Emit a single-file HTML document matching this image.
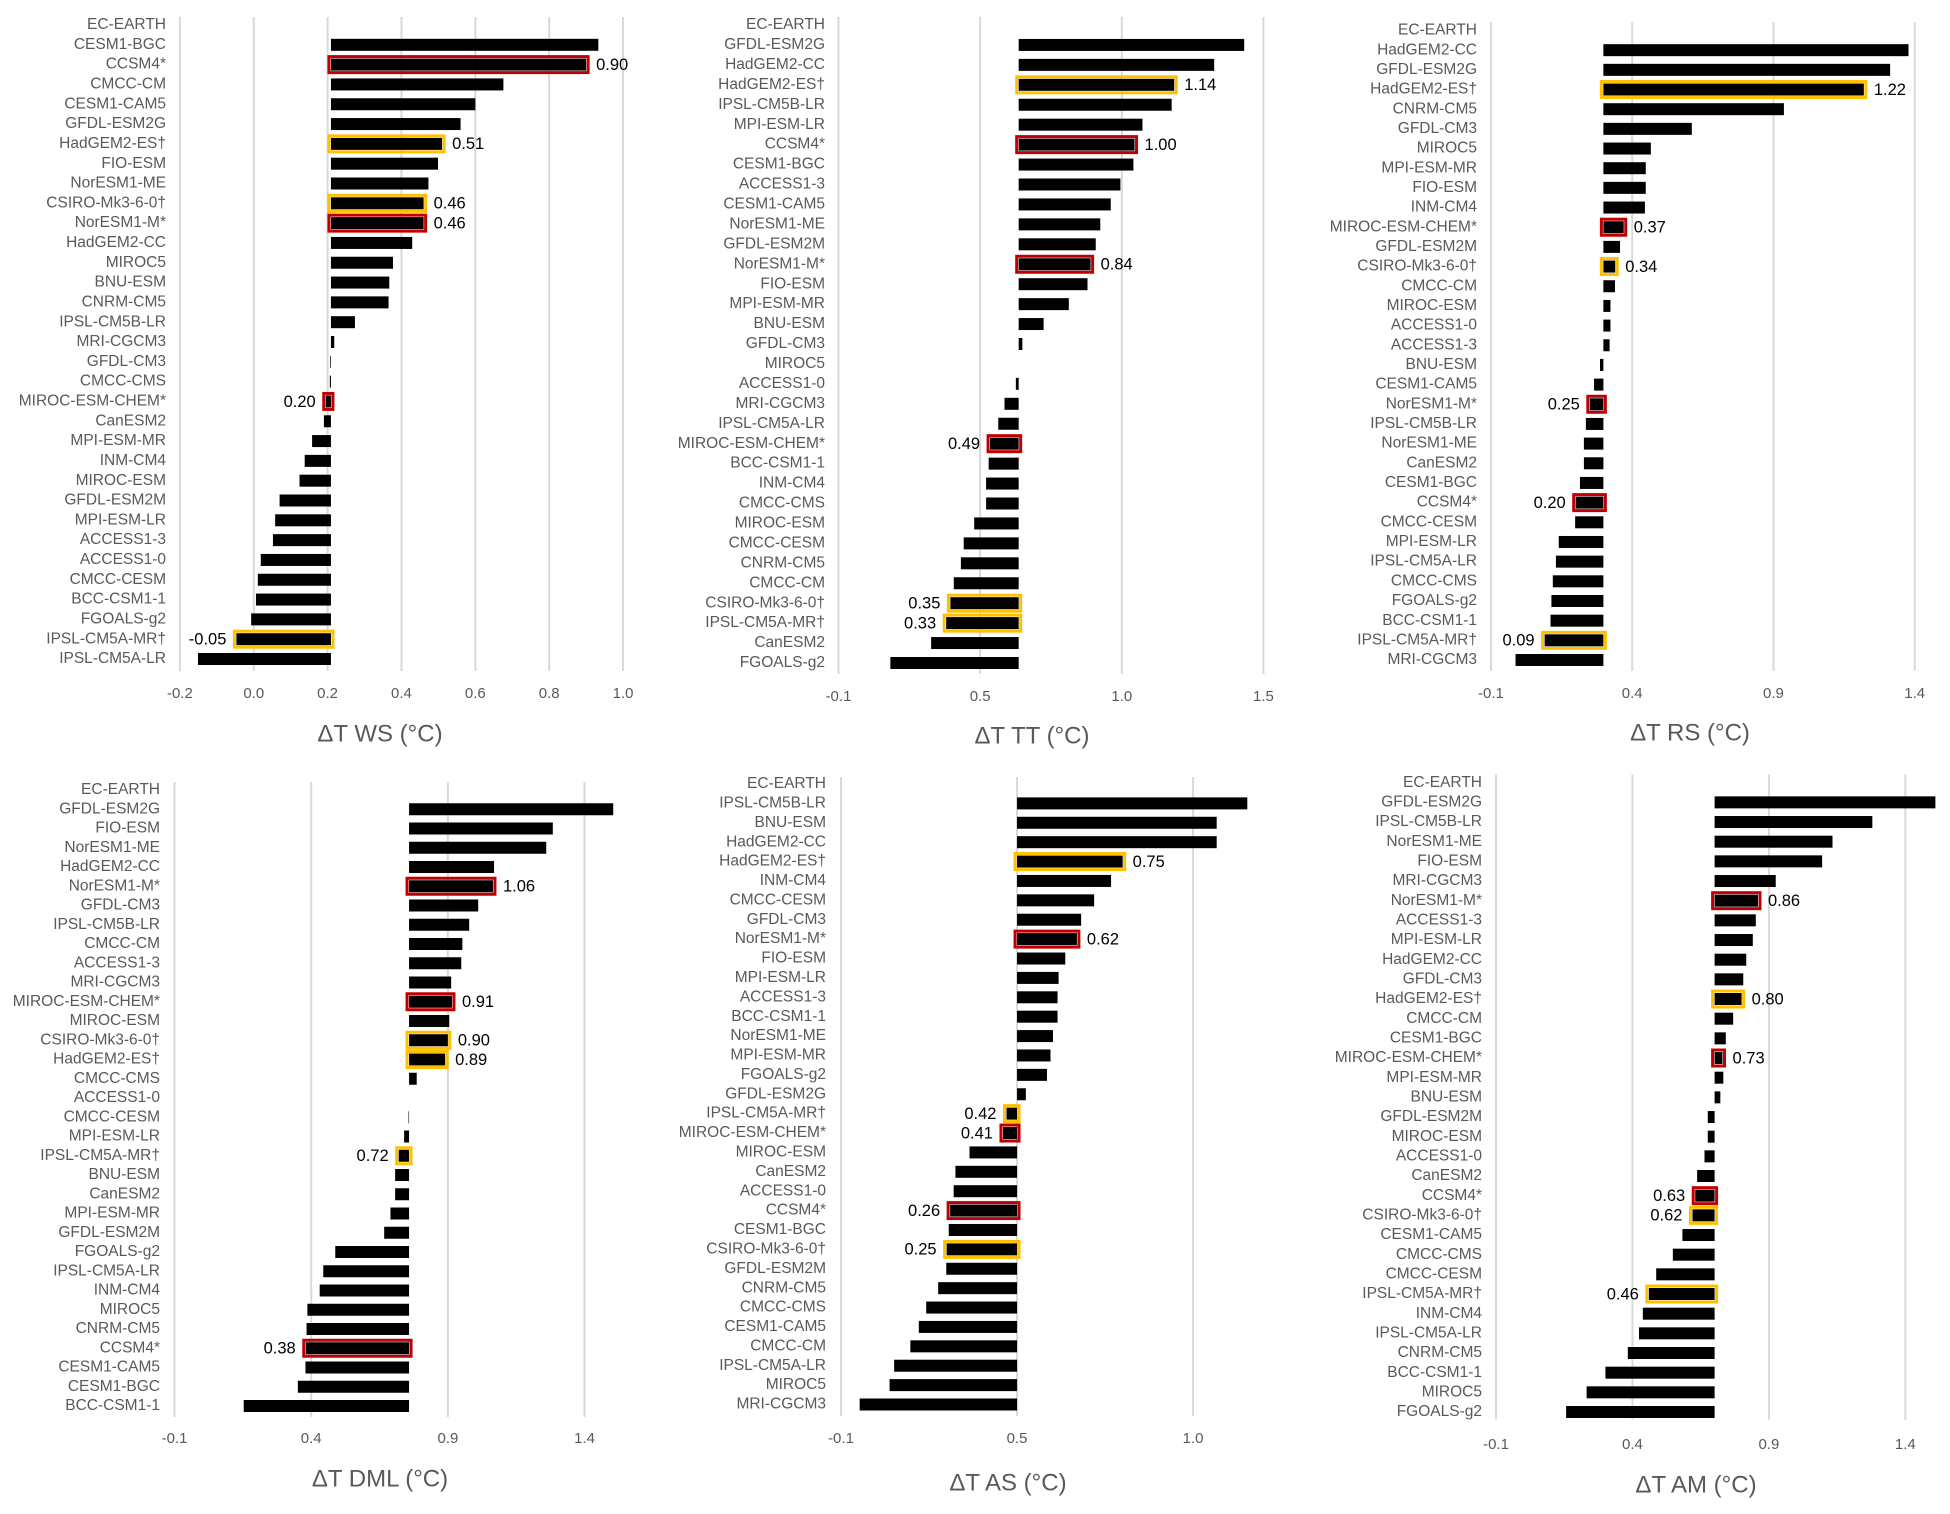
<!DOCTYPE html>
<html><head><meta charset="utf-8">
<style>
html,body{margin:0;padding:0;background:#fff;}
svg{display:block;font-family:"Liberation Sans",sans-serif;}
</style></head>
<body>
<svg id="fig" width="1950" height="1514" viewBox="0 0 1950 1514" xmlns="http://www.w3.org/2000/svg"></svg>
<script>
// ---------- DATA ----------
const wsCats=["EC-EARTH","CESM1-BGC","CCSM4*","CMCC-CM","CESM1-CAM5","GFDL-ESM2G","HadGEM2-ES†","FIO-ESM","NorESM1-ME","CSIRO-Mk3-6-0†","NorESM1-M*","HadGEM2-CC","MIROC5","BNU-ESM","CNRM-CM5","IPSL-CM5B-LR","MRI-CGCM3","GFDL-CM3","CMCC-CMS","MIROC-ESM-CHEM*","CanESM2","MPI-ESM-MR","INM-CM4","MIROC-ESM","GFDL-ESM2M","MPI-ESM-LR","ACCESS1-3","ACCESS1-0","CMCC-CESM","BCC-CSM1-1","FGOALS-g2","IPSL-CM5A-MR†","IPSL-CM5A-LR"];
const wsVals=[0.209,0.933,0.90,0.676,0.600,0.56,0.51,0.499,0.473,0.46,0.46,0.429,0.377,0.367,0.365,0.274,0.218,0.207,0.206,0.195,0.19,0.158,0.138,0.124,0.070,0.058,0.052,0.019,0.011,0.006,-0.007,-0.047,-0.151];
const wsLabels=["","","0.90","","","","0.51","","","0.46","0.46","","","","","","","","","0.20","","","","","","","","","","","","-0.05",""];
const wsBase=0.209;
const wsTicks=[-0.2,0,0.2,0.4,0.6,0.8,1.0];
const wsTickLabels=["-0.2","0.0","0.2","0.4","0.6","0.8","1.0"];

const ttCats=["EC-EARTH","GFDL-ESM2G","HadGEM2-CC","HadGEM2-ES†","IPSL-CM5B-LR","MPI-ESM-LR","CCSM4*","CESM1-BGC","ACCESS1-3","CESM1-CAM5","NorESM1-ME","GFDL-ESM2M","NorESM1-M*","FIO-ESM","MPI-ESM-MR","BNU-ESM","GFDL-CM3","MIROC5","ACCESS1-0","MRI-CGCM3","IPSL-CM5A-LR","MIROC-ESM-CHEM*","BCC-CSM1-1","INM-CM4","CMCC-CMS","MIROC-ESM","CMCC-CESM","CNRM-CM5","CMCC-CM","CSIRO-Mk3-6-0†","IPSL-CM5A-MR†","CanESM2","FGOALS-g2"];
const ttVals=[0.591,1.387,1.281,1.14,1.131,1.028,1.00,0.996,0.950,0.916,0.879,0.863,0.845,0.834,0.768,0.679,0.604,0.591,0.581,0.541,0.519,0.49,0.485,0.476,0.476,0.434,0.397,0.387,0.362,0.35,0.335,0.282,0.138];
const ttLabels=["","","","1.14","","","1.00","","","","","","0.84","","","","","","","","","0.49","","","","","","","","0.35","0.33","",""];
const ttBase=0.591;
const ttTicks=[-0.045,0.455,0.955,1.455];
const ttTickLabels=["-0.1","0.5","1.0","1.5"];

const rsCats=["EC-EARTH","HadGEM2-CC","GFDL-ESM2G","HadGEM2-ES†","CNRM-CM5","GFDL-CM3","MIROC5","MPI-ESM-MR","FIO-ESM","INM-CM4","MIROC-ESM-CHEM*","GFDL-ESM2M","CSIRO-Mk3-6-0†","CMCC-CM","MIROC-ESM","ACCESS1-0","ACCESS1-3","BNU-ESM","CESM1-CAM5","NorESM1-M*","IPSL-CM5B-LR","NorESM1-ME","CanESM2","CESM1-BGC","CCSM4*","CMCC-CESM","MPI-ESM-LR","IPSL-CM5A-LR","CMCC-CMS","FGOALS-g2","BCC-CSM1-1","IPSL-CM5A-MR†","MRI-CGCM3"];
const rsVals=[0.298,1.378,1.313,1.22,0.937,0.611,0.466,0.448,0.448,0.445,0.37,0.357,0.34,0.339,0.323,0.323,0.320,0.286,0.265,0.25,0.236,0.229,0.229,0.215,0.20,0.198,0.140,0.130,0.119,0.114,0.111,0.09,-0.013];
const rsLabels=["","","","1.22","","","","","","","0.37","","0.34","","","","","","","0.25","","","","","0.20","","","","","","","0.09",""];
const rsBase=0.298;
const rsTicks=[-0.1,0.4,0.9,1.4];
const rsTickLabels=["-0.1","0.4","0.9","1.4"];

const dmlCats=["EC-EARTH","GFDL-ESM2G","FIO-ESM","NorESM1-ME","HadGEM2-CC","NorESM1-M*","GFDL-CM3","IPSL-CM5B-LR","CMCC-CM","ACCESS1-3","MRI-CGCM3","MIROC-ESM-CHEM*","MIROC-ESM","CSIRO-Mk3-6-0†","HadGEM2-ES†","CMCC-CMS","ACCESS1-0","CMCC-CESM","MPI-ESM-LR","IPSL-CM5A-MR†","BNU-ESM","CanESM2","MPI-ESM-MR","GFDL-ESM2M","FGOALS-g2","IPSL-CM5A-LR","INM-CM4","MIROC5","CNRM-CM5","CCSM4*","CESM1-CAM5","CESM1-BGC","BCC-CSM1-1"];
const dmlVals=[0.758,1.505,1.284,1.260,1.069,1.065,1.011,0.978,0.953,0.949,0.912,0.915,0.905,0.90,0.89,0.786,0.759,0.756,0.740,0.72,0.707,0.707,0.690,0.667,0.488,0.444,0.431,0.386,0.383,0.38,0.379,0.351,0.153];
const dmlLabels=["","","","","","1.06","","","","","","0.91","","0.90","0.89","","","","","0.72","","","","","","","","","","0.38","","",""];
const dmlBase=0.758;
const dmlTicks=[-0.1,0.4,0.9,1.4];
const dmlTickLabels=["-0.1","0.4","0.9","1.4"];

const asCats=["EC-EARTH","IPSL-CM5B-LR","BNU-ESM","HadGEM2-CC","HadGEM2-ES†","INM-CM4","CMCC-CESM","GFDL-CM3","NorESM1-M*","FIO-ESM","MPI-ESM-LR","ACCESS1-3","BCC-CSM1-1","NorESM1-ME","MPI-ESM-MR","FGOALS-g2","GFDL-ESM2G","IPSL-CM5A-MR†","MIROC-ESM-CHEM*","MIROC-ESM","CanESM2","ACCESS1-0","CCSM4*","CESM1-BGC","CSIRO-Mk3-6-0†","GFDL-ESM2M","CNRM-CM5","CMCC-CMS","CESM1-CAM5","CMCC-CM","IPSL-CM5A-LR","MIROC5","MRI-CGCM3"];
const asVals=[0.45,1.104,1.017,1.017,0.75,0.717,0.669,0.632,0.62,0.587,0.568,0.565,0.565,0.552,0.545,0.535,0.475,0.42,0.41,0.315,0.275,0.270,0.26,0.256,0.25,0.249,0.226,0.192,0.171,0.147,0.101,0.088,0.003];
const asLabels=["","","","","0.75","","","","0.62","","","","","","","","","0.42","0.41","","","","0.26","","0.25","","","","","","","",""];
const asBase=0.45;
const asTicks=[-0.05,0.45,0.95];
const asTickLabels=["-0.1","0.5","1.0"];

const amCats=["EC-EARTH","GFDL-ESM2G","IPSL-CM5B-LR","NorESM1-ME","FIO-ESM","MRI-CGCM3","NorESM1-M*","ACCESS1-3","MPI-ESM-LR","HadGEM2-CC","GFDL-CM3","HadGEM2-ES†","CMCC-CM","CESM1-BGC","MIROC-ESM-CHEM*","MPI-ESM-MR","BNU-ESM","GFDL-ESM2M","MIROC-ESM","ACCESS1-0","CanESM2","CCSM4*","CSIRO-Mk3-6-0†","CESM1-CAM5","CMCC-CMS","CMCC-CESM","IPSL-CM5A-MR†","INM-CM4","IPSL-CM5A-LR","CNRM-CM5","BCC-CSM1-1","MIROC5","FGOALS-g2"];
const amVals=[0.701,1.510,1.279,1.133,1.095,0.925,0.86,0.852,0.841,0.817,0.806,0.80,0.769,0.742,0.73,0.733,0.722,0.676,0.676,0.664,0.637,0.63,0.62,0.583,0.548,0.487,0.46,0.438,0.424,0.383,0.301,0.232,0.157];
const amLabels=["","","","","","","0.86","","","","","0.80","","","0.73","","","","","","","0.63","0.62","","","","0.46","","","","","",""];
const amBase=0.701;
const amTicks=[-0.1,0.4,0.9,1.4];
const amTickLabels=["-0.1","0.4","0.9","1.4"];

// ---------- DRAW ----------
const NS="http://www.w3.org/2000/svg";
const svg=document.getElementById('fig');
function mk(tag,attrs,parent){const e=document.createElementNS(NS,tag);for(const k in attrs)e.setAttribute(k,attrs[k]);(parent||svg).appendChild(e);return e;}

function panel(id,cats,vals,labels,base,ticks,tickLabels,title,L){
  const g=mk('g',{});
  
  
  const xs=v=>L.zero+v*L.ppu;
  const n=cats.length;
  const ys=i=>L.y0+i*(L.y1-L.y0)/(n-1);
  ticks.forEach((t,i)=>{
    const gl=mk('line',{x1:xs(t),x2:xs(t),y1:L.gt,y2:L.gb,stroke:'#d9d9d9','stroke-width':2},g);
    
    
    const tl=mk('text',{x:xs(t),y:L.ty,'text-anchor':'middle','dominant-baseline':'middle','font-size':15,fill:'#595959'},g);
    tl.textContent=tickLabels[i];
    
    
  });
  const bx=xs(base);
  const bh=12;
  cats.forEach((c,i)=>{
    const y=ys(i);
    const cl=mk('text',{x:L.lr,y:y,'text-anchor':'end','dominant-baseline':'middle','font-size':15.5,fill:'#595959'},g);
    cl.textContent=c;
    
    
    const vx=xs(vals[i]);
    const x0=Math.min(bx,vx), w=Math.abs(vx-bx);
    if(labels[i]){
      const col=c.indexOf('*')>=0?'#c00000':'#ffc000';
      const hl=mk('rect',{x:x0-2,y:y-bh/2-2,width:w+4,height:bh+4,fill:'none',stroke:col,'stroke-width':3},g);
      
      
    }
    if(w>0.3){
      const b=mk('rect',{x:x0,y:y-bh/2,width:w,height:bh,fill:'#000'},g);
      
      
    }
    if(labels[i]){
      const right=vals[i]>=base;
      const vl=mk('text',{x:right?vx+10:vx-10,y:y+1,'text-anchor':right?'start':'end','dominant-baseline':'middle','font-size':16.5,fill:'#000'},g);
      vl.textContent=labels[i];
      
      
    }
  });
  const tt=mk('text',{x:L.tx,y:L.tity,'text-anchor':'middle','dominant-baseline':'middle','font-size':24,fill:'#595959'},g);
  tt.textContent=title;
  
  
}

panel('ws',wsCats,wsVals,wsLabels,wsBase,wsTicks,wsTickLabels,'ΔT WS  (°C)',
  {zero:253.75,ppu:369.3,lr:166,y0:25,y1:659,gt:17,gb:671,ty:694,tity:735,tx:380});
panel('tt',ttCats,ttVals,ttLabels,ttBase,ttTicks,ttTickLabels,'ΔT TT  (°C)',
  {zero:851.25,ppu:283.3,lr:825,y0:25,y1:663,gt:17,gb:674,ty:697,tity:737,tx:1032});
panel('rs',rsCats,rsVals,rsLabels,rsBase,rsTicks,rsTickLabels,'ΔT RS  (°C)',
  {zero:1519.2,ppu:282.5,lr:1477,y0:30.5,y1:660,gt:22,gb:671,ty:694,tity:734,tx:1690});
panel('dml',dmlCats,dmlVals,dmlLabels,dmlBase,dmlTicks,dmlTickLabels,'ΔT DML  (°C)',
  {zero:201.9,ppu:273.3,lr:160,y0:790,y1:1406,gt:782,gb:1417,ty:1439,tity:1480,tx:380});
panel('as',asCats,asVals,asLabels,asBase,asTicks,asTickLabels,'ΔT AS  (°C)',
  {zero:858.6,ppu:352.1,lr:826,y0:784,y1:1404.5,gt:777,gb:1416,ty:1439,tity:1484,tx:1008});
panel('am',amCats,amVals,amLabels,amBase,amTicks,amTickLabels,'ΔT AM  (°C)',
  {zero:1523.3,ppu:272.9,lr:1482,y0:782.7,y1:1412,gt:774.5,gb:1419.6,ty:1445,tity:1486,tx:1696});
</script>
</body></html>
